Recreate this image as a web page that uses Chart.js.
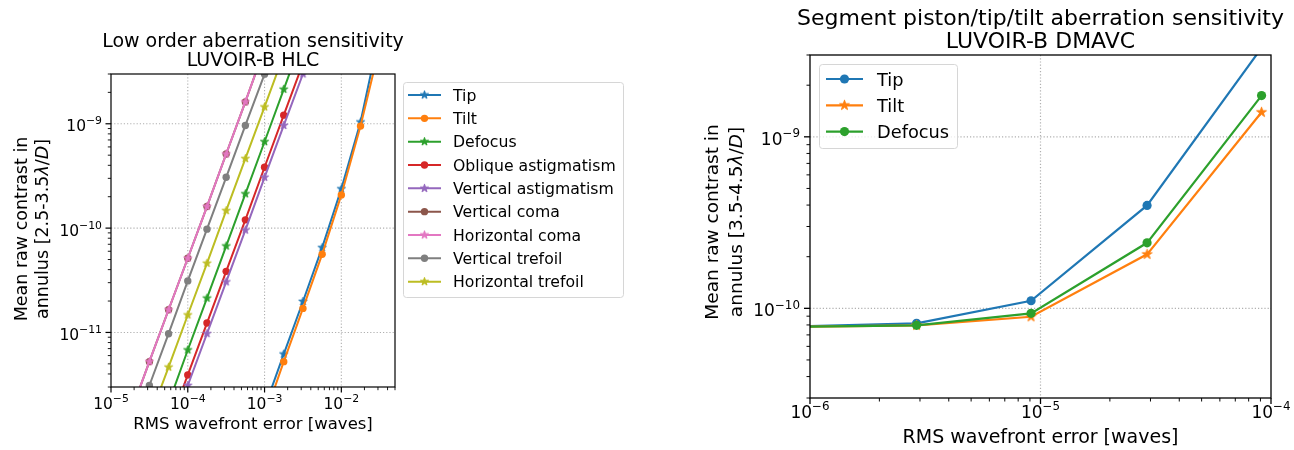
<!DOCTYPE html>
<html>
<head>
<meta charset="utf-8">
<script src="https://cdn.jsdelivr.net/npm/chart.js@4.4.1/dist/chart.umd.min.js"></script>
<style>
  html, body { margin: 0; padding: 0; background: #ffffff; }
  #wrap { position: relative; width: 1294px; height: 450px; overflow: hidden; }
  .panel { position: absolute; top: 0; }
</style>
</head>
<body>
<div id="wrap">
  <canvas id="hlc" class="panel" style="left:0px" width="690" height="450"></canvas>
  <canvas id="dmavc" class="panel" style="left:690px" width="604" height="450"></canvas>
</div>
<script>
// ---------- Left panel: LUVOIR-B HLC, low order aberrations ----------
const hlcTipX = [1e-3, 1.778e-3, 3.162e-3, 5.623e-3, 1e-2, 1.778e-2, 3.162e-2];
const hlcTipY = [1.9e-12, 6.2e-12, 1.98e-11, 6.5e-11, 2.38e-10, 1.04e-9, 7.5e-9];
const hlcTiltX = [1e-3, 1.778e-3, 3.162e-3, 5.623e-3, 1e-2, 1.778e-2, 3.162e-2];
const hlcTiltY = [1.56e-12, 5.25e-12, 1.7e-11, 5.61e-11, 2.08e-10, 9.5e-10, 5.5e-9];
const hlcDefocusX = [5.623e-5, 1e-4, 1.778e-4, 3.162e-4, 5.623e-4, 1e-3, 1.778e-3, 3.162e-3];
const hlcDefocusY = [2.1e-12, 6.79e-12, 2.13e-11, 6.73e-11, 2.13e-10, 6.73e-10, 2.14e-9, 6.8e-9];
const hlcObliqueAstigX = [5.623e-5, 1e-4, 1.778e-4, 3.162e-4, 5.623e-4, 1e-3, 1.778e-3, 3.162e-3];
const hlcObliqueAstigY = [1.25e-12, 3.92e-12, 1.23e-11, 3.85e-11, 1.2e-10, 3.83e-10, 1.21e-9, 3.8e-9];
const hlcVertAstigX = [5.623e-5, 1e-4, 1.778e-4, 3.162e-4, 5.623e-4, 1e-3, 1.778e-3, 3.162e-3];
const hlcVertAstigY = [1e-12, 3.1e-12, 9.73e-12, 3.05e-11, 9.57e-11, 3.07e-10, 9.64e-10, 3.0e-9];
const hlcVertComaX = [1.778e-5, 3.162e-5, 5.623e-5, 1e-4, 1.778e-4, 3.162e-4, 5.623e-4, 1e-3];
const hlcVertComaY = [1.65e-12, 5.25e-12, 1.65e-11, 5.14e-11, 1.61e-10, 5.13e-10, 1.62e-9, 5.3e-9];
const hlcHorizComaX = [1.778e-5, 3.162e-5, 5.623e-5, 1e-4, 1.778e-4, 3.162e-4, 5.623e-4, 1e-3];
const hlcHorizComaY = [1.65e-12, 5.25e-12, 1.65e-11, 5.14e-11, 1.61e-10, 5.13e-10, 1.62e-9, 5.3e-9];
const hlcVertTrefoilX = [1.778e-5, 3.162e-5, 5.623e-5, 1e-4, 1.778e-4, 3.162e-4, 5.623e-4, 1e-3, 1.778e-3];
const hlcVertTrefoilY = [1e-12, 3.1e-12, 9.73e-12, 3.12e-11, 9.77e-11, 3.07e-10, 9.64e-10, 2.99e-9, 9.4e-9];
const hlcHorizTrefoilX = [3.162e-5, 5.623e-5, 1e-4, 1.778e-4, 3.162e-4, 5.623e-4, 1e-3, 1.778e-3];
const hlcHorizTrefoilY = [1.5e-12, 4.65e-12, 1.47e-11, 4.6e-11, 1.47e-10, 4.63e-10, 1.45e-9, 4.6e-9];
const hlcXDecades = [-5, -4, -3, -2];
const hlcYDecades = [-11, -10, -9];

// ---------- Right panel: LUVOIR-B DMAVC, segment piston/tip/tilt ----------
const dmavcX = [9.1e-7, 2.9e-6, 9.1e-6, 2.9e-5, 9.1e-5];
const dmavcTip = [7.85e-11, 8.18e-11, 1.107e-10, 3.98e-10, 3.3e-9];
const dmavcTilt = [7.8e-11, 7.96e-11, 8.93e-11, 2.065e-10, 1.39e-9];
const dmavcDefocus = [7.8e-11, 7.96e-11, 9.35e-11, 2.41e-10, 1.74e-9];
const dmavcXDecades = [-6, -5, -4];
const dmavcYDecades = [-10, -9];

const FAM = "'DejaVu Sans', sans-serif";
const C = {
  blue: '#1f77b4', orange: '#ff7f0e', green: '#2ca02c', red: '#d62728', purple: '#9467bd',
  brown: '#8c564b', pink: '#e377c2', gray: '#7f7f7f', olive: '#bcbd22'
};

// filled five-point star marker, drawn once per colour/size
function starImage(color, r) {
  const size = Math.ceil(2 * r + 4);
  const c = document.createElement('canvas');
  c.width = size; c.height = size;
  const g = c.getContext('2d');
  g.translate(size / 2, size / 2);
  g.beginPath();
  for (let k = 0; k < 10; k++) {
    const rr = k % 2 === 0 ? r : r * 0.381966;
    const a = -Math.PI / 2 + k * Math.PI / 5;
    const px = rr * Math.cos(a), py = rr * Math.sin(a);
    if (k === 0) g.moveTo(px, py); else g.lineTo(px, py);
  }
  g.closePath();
  g.fillStyle = color; g.fill();
  g.strokeStyle = color; g.lineWidth = 1; g.stroke();
  return c;
}

// tick positions 1..9 x 10^e within the axis range
function logTicks(min, max) {
  const out = [];
  for (let e = Math.floor(Math.log10(min)); e <= Math.ceil(Math.log10(max)); e++) {
    for (let m = 1; m < 10; m++) {
      const v = m * Math.pow(10, e);
      if (v >= min * 0.9999 && v <= max * 1.0001) out.push({ value: v, major: m === 1 });
    }
  }
  return out;
}

function drawPow(ctx, e, x, y, F, align) {
  const sF = F * 0.7;
  const es = (e < 0 ? '\u2212' : '') + Math.abs(e);
  ctx.font = F + 'px ' + FAM;
  const w1 = ctx.measureText('10').width;
  ctx.font = sF + 'px ' + FAM;
  const w2 = ctx.measureText(es).width;
  const tot = w1 + w2;
  const sx = align === 'center' ? x - tot / 2 : x - tot;
  ctx.textAlign = 'left';
  ctx.textBaseline = 'alphabetic';
  ctx.font = F + 'px ' + FAM;
  ctx.fillText('10', sx, y);
  ctx.font = sF + 'px ' + FAM;
  ctx.fillText(es, sx + w1, y - F * 0.45);
}

function drawRich(ctx, parts, x, y, F) {
  let total = 0;
  const ws = parts.map(([t, it]) => {
    ctx.font = (it ? 'italic ' : '') + F + 'px ' + FAM;
    const w = ctx.measureText(t).width; total += w; return w;
  });
  let cx = x - total / 2;
  ctx.textAlign = 'left';
  ctx.textBaseline = 'alphabetic';
  parts.forEach(([t, it], i) => {
    ctx.font = (it ? 'italic ' : '') + F + 'px ' + FAM;
    ctx.fillText(t, cx, y);
    cx += ws[i];
  });
}

function roundRect(ctx, x, y, w, h, r) {
  ctx.beginPath();
  ctx.moveTo(x + r, y);
  ctx.lineTo(x + w - r, y); ctx.arcTo(x + w, y, x + w, y + r, r);
  ctx.lineTo(x + w, y + h - r); ctx.arcTo(x + w, y + h, x + w - r, y + h, r);
  ctx.lineTo(x + r, y + h); ctx.arcTo(x, y + h, x, y + h - r, r);
  ctx.lineTo(x, y + r); ctx.arcTo(x, y, x + r, y, r);
  ctx.closePath();
}

function decorPlugin(P) {
  return {
    id: 'decor_' + P.id,
    beforeDatasetsDraw(chart) {
      const { ctx, chartArea: a, scales: { x, y } } = chart;
      ctx.save();
      ctx.strokeStyle = '#b0b0b0';
      ctx.lineWidth = P.gridW;
      ctx.setLineDash([1.2, 2]);
      P.xDecades.forEach(e => {
        const px = x.getPixelForValue(Math.pow(10, e));
        if (px > a.left + 1 && px < a.right - 1) {
          ctx.beginPath(); ctx.moveTo(px, a.top); ctx.lineTo(px, a.bottom); ctx.stroke();
        }
      });
      P.yDecades.forEach(e => {
        const py = y.getPixelForValue(Math.pow(10, e));
        if (py > a.top + 1 && py < a.bottom - 1) {
          ctx.beginPath(); ctx.moveTo(a.left, py); ctx.lineTo(a.right, py); ctx.stroke();
        }
      });
      ctx.restore();
    },
    afterDatasetsDraw(chart) {
      const { ctx, chartArea: a, scales: { x, y } } = chart;
      ctx.save();
      // axes frame
      ctx.strokeStyle = '#000'; ctx.lineWidth = P.frameW;
      ctx.strokeRect(a.left, a.top, a.right - a.left, a.bottom - a.top);
      // outward tick marks
      x.ticks.forEach(t => {
        const px = x.getPixelForValue(t.value);
        const len = t.major ? P.majorLen : P.minorLen;
        ctx.lineWidth = t.major ? P.frameW : P.frameW * 0.75;
        ctx.beginPath(); ctx.moveTo(px, a.bottom); ctx.lineTo(px, a.bottom + len); ctx.stroke();
      });
      y.ticks.forEach(t => {
        const py = y.getPixelForValue(t.value);
        const len = t.major ? P.majorLen : P.minorLen;
        ctx.lineWidth = t.major ? P.frameW : P.frameW * 0.75;
        ctx.beginPath(); ctx.moveTo(a.left, py); ctx.lineTo(a.left - len, py); ctx.stroke();
      });
      // tick labels
      ctx.fillStyle = '#000';
      P.xDecades.forEach(e => {
        drawPow(ctx, e, x.getPixelForValue(Math.pow(10, e)), P.xTickBase, P.tickF, 'center');
      });
      P.yDecades.forEach(e => {
        drawPow(ctx, e, P.yTickRight, y.getPixelForValue(Math.pow(10, e)) + P.tickF * 0.48, P.tickF, 'right');
      });
      // titles
      const cx = (a.left + a.right) / 2;
      ctx.textAlign = 'center'; ctx.textBaseline = 'alphabetic';
      ctx.font = P.titleF + 'px ' + FAM;
      P.title.forEach((t, i) => ctx.fillText(t, cx, P.titleBase[i]));
      ctx.font = P.xLabelF + 'px ' + FAM;
      ctx.fillText(P.xLabel, cx, P.xLabelBase);
      P.yLabel.forEach((parts, i) => {
        ctx.save();
        ctx.translate(P.yLabelBase[i], P.yLabelCenter);
        ctx.rotate(-Math.PI / 2);
        drawRich(ctx, parts, 0, 0, P.yLabelF);
        ctx.restore();
      });
      // legend
      const L = P.legend;
      roundRect(ctx, L.x + 0.5, L.y + 0.5, L.w, L.h, 3);
      ctx.fillStyle = 'rgba(255,255,255,0.8)'; ctx.fill();
      ctx.strokeStyle = '#d6d6d6'; ctx.lineWidth = 1; ctx.stroke();
      P.series.forEach((s, i) => {
        const ly = L.row0 + i * L.step;
        ctx.strokeStyle = s.color; ctx.lineWidth = P.lineWidth;
        ctx.beginPath(); ctx.moveTo(L.line0, ly); ctx.lineTo(L.line1, ly); ctx.stroke();
        const mx = (L.line0 + L.line1) / 2;
        if (s.marker === 'star') {
          ctx.drawImage(s.img, mx - s.img.width / 2, ly - s.img.height / 2);
        } else {
          ctx.fillStyle = s.color;
          ctx.beginPath(); ctx.arc(mx, ly, P.dotR, 0, Math.PI * 2); ctx.fill();
        }
        ctx.fillStyle = '#000'; ctx.font = L.F + 'px ' + FAM; ctx.textAlign = 'left';
        ctx.fillText(s.label, L.textX, ly + L.F * 0.37);
      });
      ctx.restore();
    }
  };
}

function buildChart(canvasId, P) {
  P.series.forEach(s => { if (s.marker === 'star') s.img = starImage(s.color, P.starR); });
  const datasets = P.series.map((s, i) => ({
    label: s.label,
    data: s.x.map((xv, k) => ({ x: xv, y: s.y[k] })),
    borderColor: s.color,
    backgroundColor: s.color,
    borderWidth: P.lineWidth,
    pointStyle: s.marker === 'star' ? s.img : 'circle',
    pointRadius: s.marker === 'star' ? P.starR : P.dotR,
    pointHoverRadius: s.marker === 'star' ? P.starR : P.dotR,
    pointBorderWidth: 0,
    pointBackgroundColor: s.color,
    pointBorderColor: s.color,
    tension: 0,
    fill: false,
    clip: 0,
    order: P.series.length - i
  }));
  return new Chart(document.getElementById(canvasId), {
    type: 'line',
    data: { datasets },
    options: {
      responsive: false,
      animation: false,
      events: [],
      layout: { padding: P.padding },
      plugins: { legend: { display: false }, title: { display: false }, tooltip: { enabled: false } },
      scales: {
        x: {
          type: 'logarithmic', min: P.xMin, max: P.xMax,
          afterBuildTicks: sc => { sc.ticks = logTicks(sc.min, sc.max); },
          afterFit: sc => { sc.height = P.xAxisH; },
          ticks: { display: false }, grid: { display: false }, border: { display: false }
        },
        y: {
          type: 'logarithmic', min: P.yMin, max: P.yMax,
          afterBuildTicks: sc => { sc.ticks = logTicks(sc.min, sc.max); },
          afterFit: sc => { sc.width = P.yAxisW; },
          ticks: { display: false }, grid: { display: false }, border: { display: false }
        }
      }
    },
    plugins: [decorPlugin(P)]
  });
}

buildChart('hlc', {
  id: 'hlc',
  xMin: 1e-5, xMax: 5e-2, yMin: 3e-12, yMax: 3e-9,
  padding: { left: 0, top: 74, right: 295, bottom: 0 },
  yAxisW: 111, xAxisH: 63,
  lineWidth: 2, dotR: 3.7, starR: 4.3,
  gridW: 1.1, frameW: 1.2, majorLen: 5.5, minorLen: 3.2,
  tickF: 15.5, xTickBase: 409, yTickRight: 102,
  title: ['Low order aberration sensitivity', 'LUVOIR-B HLC'], titleF: 19, titleBase: [47, 66],
  xLabel: 'RMS wavefront error [waves]', xLabelF: 16.5, xLabelBase: 429,
  yLabel: [[['Mean raw contrast in', false]],
           [['annulus [2.5-3.5', false], ['\u03bb', true], ['/', false], ['D', true], [']', false]]],
  yLabelF: 17.5, yLabelBase: [27, 48], yLabelCenter: 229,
  xDecades: hlcXDecades, yDecades: hlcYDecades,
  legend: { x: 403, y: 82, w: 220, h: 215, row0: 95, step: 23.33, line0: 408, line1: 441, textX: 453, F: 15.7 },
  series: [
    { label: 'Tip', x: hlcTipX, y: hlcTipY, color: C.blue, marker: 'star' },
    { label: 'Tilt', x: hlcTiltX, y: hlcTiltY, color: C.orange, marker: 'circle' },
    { label: 'Defocus', x: hlcDefocusX, y: hlcDefocusY, color: C.green, marker: 'star' },
    { label: 'Oblique astigmatism', x: hlcObliqueAstigX, y: hlcObliqueAstigY, color: C.red, marker: 'circle' },
    { label: 'Vertical astigmatism', x: hlcVertAstigX, y: hlcVertAstigY, color: C.purple, marker: 'star' },
    { label: 'Vertical coma', x: hlcVertComaX, y: hlcVertComaY, color: C.brown, marker: 'circle' },
    { label: 'Horizontal coma', x: hlcHorizComaX, y: hlcHorizComaY, color: C.pink, marker: 'star' },
    { label: 'Vertical trefoil', x: hlcVertTrefoilX, y: hlcVertTrefoilY, color: C.gray, marker: 'circle' },
    { label: 'Horizontal trefoil', x: hlcHorizTrefoilX, y: hlcHorizTrefoilY, color: C.olive, marker: 'star' }
  ]
});

buildChart('dmavc', {
  id: 'dmavc',
  xMin: 1e-6, xMax: 1e-4, yMin: 3e-11, yMax: 3e-9,
  padding: { left: 0, top: 55, right: 23, bottom: 0 },
  yAxisW: 120, xAxisH: 52,
  lineWidth: 2.2, dotR: 4.6, starR: 5.2,
  gridW: 1.2, frameW: 1.3, majorLen: 6, minorLen: 3.5,
  tickF: 17, xTickBase: 418, yTickRight: 110,
  title: ['Segment piston/tip/tilt aberration sensitivity', 'LUVOIR-B DMAVC'], titleF: 22, titleBase: [25, 48],
  xLabel: 'RMS wavefront error [waves]', xLabelF: 19, xLabelBase: 443,
  yLabel: [[['Mean raw contrast in', false]],
           [['annulus [3.5-4.5', false], ['\u03bb', true], ['/', false], ['D', true], [']', false]]],
  yLabelF: 18.5, yLabelBase: [28, 52], yLabelCenter: 222,
  xDecades: dmavcXDecades, yDecades: dmavcYDecades,
  legend: { x: 129, y: 64, w: 138, h: 84, row0: 79, step: 26.3, line0: 136, line1: 173, textX: 187, F: 17.8 },
  series: [
    { label: 'Tip', x: dmavcX, y: dmavcTip, color: C.blue, marker: 'circle' },
    { label: 'Tilt', x: dmavcX, y: dmavcTilt, color: C.orange, marker: 'star' },
    { label: 'Defocus', x: dmavcX, y: dmavcDefocus, color: C.green, marker: 'circle' }
  ]
});
</script>
</body>
</html>
